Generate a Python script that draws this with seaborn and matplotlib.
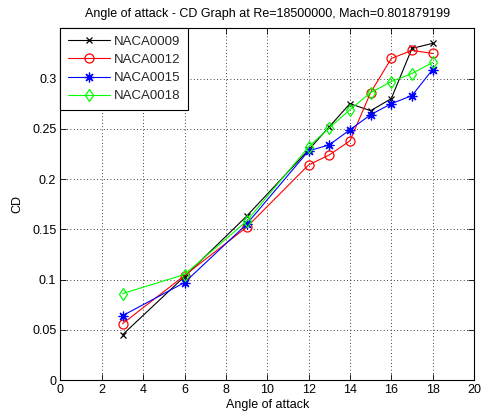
import numpy as np
import pandas as pd
import matplotlib
matplotlib.use("Agg")
import matplotlib.pyplot as plt
import seaborn as sns
from matplotlib.ticker import FixedLocator, FuncFormatter

# ---- data ----
angle = [3, 6, 9, 12, 13, 14, 15, 16, 17, 18]
cd_naca0009 = [0.045, 0.103, 0.163, 0.229, 0.252, 0.275, 0.268, 0.280, 0.330, 0.335]
cd_naca0012 = [0.056, 0.104, 0.152, 0.214, 0.224, 0.238, 0.286, 0.320, 0.328, 0.325]
cd_naca0015 = [0.064, 0.097, 0.155, 0.228, 0.234, 0.249, 0.264, 0.275, 0.283, 0.309]
cd_naca0018 = [0.086, 0.105, 0.158, 0.232, 0.251, 0.269, 0.286, 0.297, 0.305, 0.316]
series_names = ["NACA0009", "NACA0012", "NACA0015", "NACA0018"]
x_ticks = [0, 2, 4, 6, 8, 10, 12, 14, 16, 18, 20]
y_ticks = [0, 0.05, 0.1, 0.15, 0.2, 0.25, 0.3]
title = "Angle of attack - CD Graph at Re=18500000, Mach=0.801879199"

sns.set_theme(style="ticks")
plt.rcParams["font.family"] = ["Liberation Sans", "DejaVu Sans"]

fig = plt.figure(figsize=(4.85, 4.20), dpi=100)
ax = fig.add_axes([0.1247, 0.0952, 0.8526, 0.8374])

styles = [
    dict(color=(0, 0, 0), marker="x", ms=4.5, mfc="none"),
    dict(color=(1, 0, 0), marker="o", ms=6.5, mfc="none"),
    dict(color=(0, 0, 1), marker=(8, 2, 0), ms=7, mfc="none"),
    dict(color=(0, 1, 0), marker="d", ms=6.5, mfc="none"),
]
all_vals = [cd_naca0009, cd_naca0012, cd_naca0015, cd_naca0018]

for name, vals, st in zip(series_names, all_vals, styles):
    df = pd.DataFrame({"angle": angle, "cd": vals})
    sns.lineplot(data=df, x="angle", y="cd", ax=ax, label=name,
                 color=st["color"], marker=st["marker"], markersize=st["ms"],
                 markerfacecolor=st["mfc"], markeredgecolor=st["color"],
                 markeredgewidth=0.9, linewidth=0.8)

ax.set_xlim(0, 20)
ax.set_ylim(0, 0.35)
ax.xaxis.set_major_locator(FixedLocator(x_ticks))
ax.yaxis.set_major_locator(FixedLocator(y_ticks))
ax.yaxis.set_major_formatter(FuncFormatter(lambda v, p: "%g" % v))
ax.tick_params(direction="in", top=True, right=True, length=4, width=0.6,
               labelsize=9, colors="black", pad=3)
ax.grid(True, linestyle=(0, (1, 3)), color="black", linewidth=0.6)
for sp in ax.spines.values():
    sp.set_visible(True)
    sp.set_color("black")
    sp.set_linewidth(0.8)

ax.set_xlabel("Angle of attack", fontsize=9, color="black", labelpad=2)
ax.set_ylabel("CD", fontsize=9, color="black", labelpad=6)
ax.set_title(title, fontsize=9, color="black", pad=8)

leg = ax.legend(loc="upper left", borderaxespad=0, fontsize=9.5,
                frameon=True, fancybox=False, edgecolor="black",
                framealpha=1, handlelength=3.2, labelspacing=0.45,
                borderpad=0.55, handletextpad=0.3)
leg.get_frame().set_linewidth(0.8)

fig.savefig("out.png", dpi=100)
